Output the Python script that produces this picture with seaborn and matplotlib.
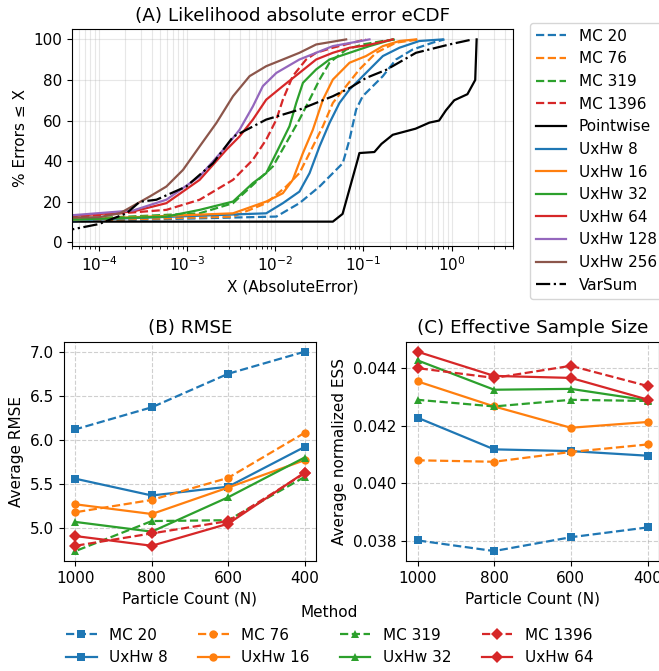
import numpy as np
import pandas as pd
import matplotlib
matplotlib.use("Agg")
import matplotlib.pyplot as plt
import seaborn as sns

plt.rcParams['font.family'] = ['DejaVu Sans']
plt.rcParams['font.size'] = 11

# =========================================
# (A) eCDF curves: absolute error vs % of errors <= X
# =========================================

mc20_err = [1e-5, 0.0103, 0.0188, 0.0318, 0.045, 0.0583, 0.0695, 0.0826, 0.098, 0.128, 0.166, 0.234, 0.361, 0.61, 0.83]
mc20_pct = [9.7, 12.7, 19.3, 27.5, 34.1, 39.0, 50.6, 65.4, 72.0, 77.0, 81.9, 90.1, 95.0, 98.4, 100]

mc76_err = [1e-5, 0.00332, 0.0079, 0.0133, 0.0188, 0.0245, 0.0347, 0.045, 0.0637, 0.090, 0.139, 0.234, 0.43]
mc76_pct = [9.8, 12.7, 19.3, 27.5, 34.1, 44.0, 57.2, 68.7, 77.0, 85.2, 93.4, 98.4, 100]

mc319_err = [1e-5, 0.00139, 0.00332, 0.00558, 0.0094, 0.0133, 0.0188, 0.0245, 0.0318, 0.0412, 0.0637, 0.098, 0.166, 0.234]
mc319_pct = [10.0, 14.3, 19.3, 28.3, 37.4, 48.9, 60.5, 70.3, 80.2, 88.5, 95.0, 97.5, 99.2, 100]

mc1396_err = [1e-5, 0.000583, 0.00139, 0.00332, 0.00558, 0.0079, 0.0103, 0.0122, 0.0158, 0.0224, 0.0291, 0.045, 0.0757, 0.107]
mc1396_pct = [10.2, 16.0, 21.0, 30.8, 40.7, 50.6, 60.5, 70.3, 81.9, 90.1, 93.4, 95.9, 98.4, 100]

pointwise_err = [1e-5, 0.045, 0.058, 0.086, 0.090, 0.133, 0.16, 0.215, 0.39, 0.56, 0.72, 0.86, 1.07, 1.51, 1.85, 1.92]
pointwise_pct = [10.2, 10.2, 14.0, 40.7, 44.0, 44.5, 48.5, 53.0, 56.0, 59.0, 60.0, 65.0, 70.0, 73.0, 80.0, 100]

uxhw8_err = [1e-5, 0.0079, 0.0122, 0.0188, 0.0245, 0.0318, 0.0412, 0.0535, 0.0695, 0.107, 0.166, 0.256, 0.43, 0.79]
uxhw8_pct = [9.8, 14.3, 19.3, 25.0, 34.1, 47.3, 58.8, 68.7, 75.3, 83.5, 91.8, 95.9, 99.2, 100]

uxhw16_err = [1e-5, 0.00332, 0.0079, 0.0122, 0.0158, 0.0206, 0.0267, 0.0347, 0.045, 0.0695, 0.107, 0.166, 0.256, 0.394]
uxhw16_pct = [10.0, 14.3, 20.1, 24.2, 30.8, 44.0, 55.5, 70.3, 80.2, 88.5, 91.8, 96.7, 99.2, 100]

uxhw32_err = [1e-5, 0.000583, 0.00139, 0.00332, 0.00558, 0.0079, 0.0112, 0.0145, 0.0173, 0.0206, 0.0291, 0.0412, 0.0695, 0.117, 0.215]
uxhw32_pct = [10.2, 12.7, 16.0, 20.1, 29.2, 34.1, 47.3, 57.2, 68.7, 78.6, 85.2, 90.1, 93.4, 96.7, 100]

uxhw64_err = [1e-5, 0.000245, 0.000583, 0.00139, 0.00279, 0.00394, 0.00558, 0.0079, 0.0122, 0.0188, 0.0291, 0.045, 0.0695, 0.107, 0.215]
uxhw64_pct = [10.7, 15.2, 19.3, 30.8, 45.6, 52.2, 60.5, 70.3, 77.0, 83.5, 90.1, 93.4, 95.9, 97.0, 100]

uxhw128_err = [1e-5, 0.000245, 0.000583, 0.00139, 0.00279, 0.00394, 0.00558, 0.00724, 0.0103, 0.0188, 0.0291, 0.045, 0.117]
uxhw128_pct = [11.0, 15.7, 21.0, 32.5, 47.3, 55.5, 67.0, 77.0, 83.5, 90.1, 93.4, 96.7, 100]

uxhw256_err = [1e-5, 0.0001, 0.000173, 0.000378, 0.000583, 0.0009, 0.00139, 0.00215, 0.00332, 0.00512, 0.0079, 0.0122, 0.0188, 0.0291, 0.0637]
uxhw256_pct = [11.7, 12.4, 14.3, 22.6, 27.5, 35.7, 47.3, 58.8, 72.0, 81.9, 86.8, 90.1, 93.4, 97.5, 100]

varsum_err = [2e-5, 5e-5, 1e-4, 2.06e-4, 2.91e-4, 4.5e-4, 9.8e-4, 1.97e-3, 3.32e-3, 7.9e-3, 1.88e-2, 4.5e-2, 6.95e-2, 0.107, 0.181, 0.394, 0.94, 1.73]
varsum_pct = [3.0, 6.4, 9.0, 14.3, 20.0, 21.0, 27.5, 39.0, 52.0, 60.5, 65.4, 72.0, 76.0, 81.0, 85.0, 93.4, 97.5, 100]

# =========================================
# (B) RMSE and (C) ESS per particle count
# =========================================

particles = [1000, 800, 600, 400]

rmse_mc20 = [6.12, 6.37, 6.75, 7.00]
rmse_mc76 = [5.18, 5.32, 5.57, 6.08]
rmse_mc319 = [4.74, 5.08, 5.09, 5.58]
rmse_mc1396 = [4.80, 4.94, 5.08, 5.62]
rmse_uxhw8 = [5.56, 5.37, 5.47, 5.92]
rmse_uxhw16 = [5.27, 5.16, 5.46, 5.77]
rmse_uxhw32 = [5.07, 4.96, 5.35, 5.80]
rmse_uxhw64 = [4.91, 4.80, 5.05, 5.63]

ess_mc20 = [0.03802, 0.03765, 0.03813, 0.03847]
ess_mc76 = [0.04080, 0.04075, 0.04109, 0.04135]
ess_mc319 = [0.04290, 0.04267, 0.04290, 0.04286]
ess_mc1396 = [0.04400, 0.04366, 0.04408, 0.04338]
ess_uxhw8 = [0.04228, 0.04118, 0.04112, 0.04096]
ess_uxhw16 = [0.04354, 0.04267, 0.04193, 0.04213]
ess_uxhw32 = [0.04427, 0.04325, 0.04328, 0.04288]
ess_uxhw64 = [0.04457, 0.04373, 0.04366, 0.04291]

# -----------------------------------------
# build long-form tables
# -----------------------------------------

ecdf_series = [
    ("MC 20", mc20_err, mc20_pct),
    ("MC 76", mc76_err, mc76_pct),
    ("MC 319", mc319_err, mc319_pct),
    ("MC 1396", mc1396_err, mc1396_pct),
    ("Pointwise", pointwise_err, pointwise_pct),
    ("UxHw 8", uxhw8_err, uxhw8_pct),
    ("UxHw 16", uxhw16_err, uxhw16_pct),
    ("UxHw 32", uxhw32_err, uxhw32_pct),
    ("UxHw 64", uxhw64_err, uxhw64_pct),
    ("UxHw 128", uxhw128_err, uxhw128_pct),
    ("UxHw 256", uxhw256_err, uxhw256_pct),
    ("VarSum", varsum_err, varsum_pct),
]

ecdf_df = pd.concat([
    pd.DataFrame({"Method": name, "err": err, "pct": pct})
    for name, err, pct in ecdf_series
], ignore_index=True)

pf_series = [
    ("MC 20", rmse_mc20, ess_mc20),
    ("UxHw 8", rmse_uxhw8, ess_uxhw8),
    ("MC 76", rmse_mc76, ess_mc76),
    ("UxHw 16", rmse_uxhw16, ess_uxhw16),
    ("MC 319", rmse_mc319, ess_mc319),
    ("UxHw 32", rmse_uxhw32, ess_uxhw32),
    ("MC 1396", rmse_mc1396, ess_mc1396),
    ("UxHw 64", rmse_uxhw64, ess_uxhw64),
]

pf_df = pd.concat([
    pd.DataFrame({"Method": name, "N": particles, "RMSE": rmse, "ESS": ess})
    for name, rmse, ess in pf_series
], ignore_index=True)

# -----------------------------------------
# styles
# -----------------------------------------

tab = sns.color_palette("tab10")
dashed = (3.7, 1.6)

palette = {
    "MC 20": tab[0], "MC 76": tab[1], "MC 319": tab[2], "MC 1396": tab[3],
    "Pointwise": "black",
    "UxHw 8": tab[0], "UxHw 16": tab[1], "UxHw 32": tab[2], "UxHw 64": tab[3],
    "UxHw 128": tab[4], "UxHw 256": tab[5],
    "VarSum": "black",
}

dashes = {
    "MC 20": dashed, "MC 76": dashed, "MC 319": dashed, "MC 1396": dashed,
    "Pointwise": "",
    "UxHw 8": "", "UxHw 16": "", "UxHw 32": "", "UxHw 64": "",
    "UxHw 128": "", "UxHw 256": "",
    "VarSum": (6.4, 1.6, 1.0, 1.6),
}

markers = {
    "MC 20": "s", "UxHw 8": "s",
    "MC 76": "o", "UxHw 16": "o",
    "MC 319": "^", "UxHw 32": "^",
    "MC 1396": "D", "UxHw 64": "D",
}

ecdf_order = [s[0] for s in ecdf_series]
pf_order = [s[0] for s in pf_series]

# =========================================
# FIGURE
# =========================================

fig = plt.figure(figsize=(6.59, 6.71), dpi=100)

ax_a = fig.add_axes([0.1097, 0.6334, 0.6692, 0.3227])
ax_b = fig.add_axes([0.0971, 0.1639, 0.3824, 0.3268])
ax_c = fig.add_axes([0.6161, 0.1639, 0.3839, 0.3268])

# -----------------------------------------
# (A) eCDF
# -----------------------------------------

sns.lineplot(
    data=ecdf_df, x="err", y="pct",
    hue="Method", style="Method",
    hue_order=ecdf_order, style_order=ecdf_order,
    palette=palette, dashes=dashes,
    estimator=None, sort=False, errorbar=None,
    linewidth=1.6, ax=ax_a
)

# the VarSum dash-dot line is drawn a bit heavier
ax_a.lines[-1].set_linewidth(2.0)

ax_a.set_xscale("log")
ax_a.set_xlim(5e-5, 5)
ax_a.set_ylim(-1.8, 104.9)
ax_a.set_yticks([0, 20, 40, 60, 80, 100])
ax_a.grid(True, which="both", alpha=0.3)
ax_a.set_title("(A) Likelihood absolute error eCDF")
ax_a.set_xlabel("X (AbsoluteError)")
ax_a.set_ylabel("% Errors ≤ X")

sns.move_legend(
    ax_a, "upper left",
    bbox_to_anchor=(1.02, 1.067),
    title=None
)

# -----------------------------------------
# (B) RMSE
# -----------------------------------------

common = dict(
    data=pf_df, x="N",
    hue="Method", style="Method",
    hue_order=pf_order, style_order=pf_order,
    palette={k: palette[k] for k in pf_order},
    dashes={k: dashes[k] for k in pf_order},
    markers=markers,
    markersize=6, markeredgewidth=0,
    linewidth=1.6, errorbar=None
)

sns.lineplot(y="RMSE", ax=ax_b, **common)
ax_b.invert_xaxis()
ax_b.set_xticks(particles)
ax_b.set_yticks([5.0, 5.5, 6.0, 6.5, 7.0])
ax_b.grid(True, linestyle="--", alpha=0.6)
ax_b.set_title("(B) RMSE")
ax_b.set_xlabel("Particle Count (N)")
ax_b.set_ylabel("Average RMSE")

# -----------------------------------------
# (C) ESS
# -----------------------------------------

sns.lineplot(y="ESS", ax=ax_c, legend=False, **common)
ax_c.invert_xaxis()
ax_c.set_xticks(particles)
ax_c.set_yticks([0.038, 0.040, 0.042, 0.044])
ax_c.set_yticklabels(["0.038", "0.040", "0.042", "0.044"])
ax_c.grid(True, linestyle="--", alpha=0.6)
ax_c.set_title("(C) Effective Sample Size")
ax_c.set_xlabel("Particle Count (N)")
ax_c.set_ylabel("Average normalized ESS")

# shared legend under both bottom panels
sns.move_legend(
    ax_b, "lower center",
    bbox_to_anchor=((0.5 - 0.0971) / 0.3824, (-0.1639 - 0.012) / 0.3268),
    ncol=4, frameon=False, title="Method"
)

fig.savefig("out.png", dpi=100)
